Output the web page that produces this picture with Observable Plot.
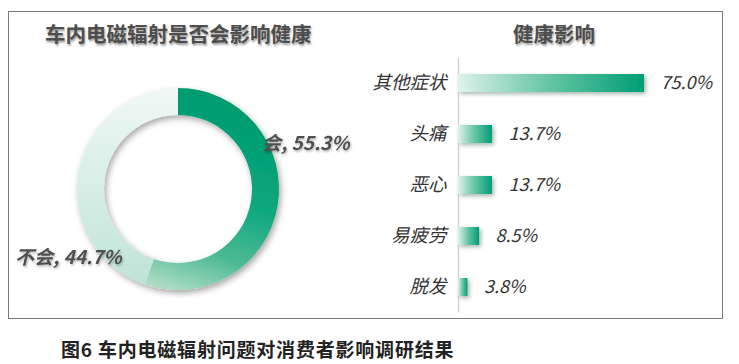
<!DOCTYPE html>
<html><head><meta charset="utf-8">
<script src="https://cdn.jsdelivr.net/npm/d3@7"></script>
<script src="https://cdn.jsdelivr.net/npm/@observablehq/plot@0.6"></script>
<style>
html,body{margin:0;padding:0;background:#fff;}
#root{position:relative;width:739px;height:364px;overflow:hidden;font-family:"Noto Sans CJK SC",sans-serif;}
#frame{position:absolute;left:8px;top:11px;width:713px;height:306px;border:1px solid #7a7a7a;pointer-events:none;}
.title{position:absolute;font-weight:700;font-size:20.5px;color:#4d4d4d;text-shadow:1px 2px 2px rgba(0,0,0,0.35);line-height:1;white-space:nowrap;}
#t1{left:45px;top:23px;}
#t2{left:513px;top:23px;}
#cap{position:absolute;left:61px;top:339px;font-size:19px;font-weight:700;color:#222;line-height:1;white-space:nowrap;letter-spacing:0.8px;}
#left{position:absolute;left:0;top:0;}
#right{position:absolute;left:370px;top:0;}
</style></head>
<body>
<div id="root">
  <div id="left"></div>
  <div id="right"></div>
  <div class="title" id="t1"></div>
  <div class="title" id="t2"></div>
  <div id="cap"></div>
  <div id="frame"></div>
</div>
<script>
// ---- data ----
const leftTitle = "车内电磁辐射是否会影响健康";
const rightTitle = "健康影响";
const caption = "图6 车内电磁辐射问题对消费者影响调研结果";
const pieCats = ["会", "不会"];
const pieValues = [55.3, 44.7];
const barCats = ["其他症状", "头痛", "恶心", "易疲劳", "脱发"];
const barValues = [75.0, 13.7, 13.7, 8.5, 3.8];

document.getElementById("t1").textContent = leftTitle;
document.getElementById("t2").textContent = rightTitle;
document.getElementById("cap").textContent = caption;

// ---- donut ----
let acc = 0;
const pieData = pieCats.map((c, i) => {
  const d = {cat: c, v: pieValues[i], start: acc, end: acc + pieValues[i]};
  acc += pieValues[i];
  return d;
});
const cx = 178, cy = 189, rIn = 74, rOut = 101;
const labelPos = [[262, 143], [15, 257]];

const leftDefs = () => {
  const defs = d3.create("svg:defs");
  const g1 = defs.append("linearGradient").attr("id", "gYes").attr("gradientUnits", "userSpaceOnUse")
    .attr("x1", 30).attr("y1", -100).attr("x2", -35).attr("y2", 98);
  [[0, "#009a70"], [0.45, "#0aa67d"], [0.75, "#4dba94"], [1, "#b8e0c8"]].forEach(([o, c]) =>
    g1.append("stop").attr("offset", o).attr("stop-color", c));
  const g2 = defs.append("linearGradient").attr("id", "gNo").attr("gradientUnits", "userSpaceOnUse")
    .attr("x1", 0).attr("y1", -101).attr("x2", 0).attr("y2", 101);
  [[0, "#f0f8f5"], [1, "#bde3d6"]].forEach(([o, c]) =>
    g2.append("stop").attr("offset", o).attr("stop-color", c));
  const f = defs.append("filter").attr("id", "donutShadow").attr("x", "-20%").attr("y", "-20%").attr("width", "140%").attr("height", "140%");
  f.append("feDropShadow").attr("dx", 2).attr("dy", 3).attr("stdDeviation", 3).attr("flood-color", "#000").attr("flood-opacity", 0.35);
  const f2 = defs.append("filter").attr("id", "txtShadow");
  f2.append("feDropShadow").attr("dx", 1).attr("dy", 1.5).attr("stdDeviation", 1).attr("flood-color", "#000").attr("flood-opacity", 0.3);
  return defs.node();
};

const leftPlot = Plot.plot({
  width: 370, height: 320, margin: 0,
  style: {background: "transparent", fontFamily: "Noto Sans CJK SC"},
  x: {domain: [0, 100], range: [0, 2 * Math.PI], axis: null},
  marks: [
    leftDefs,
    Plot.barX(pieData, {
      x1: "start", x2: "end",
      render: (index, scales, values, dims, ctx) => {
        const g = d3.create("svg:g").attr("transform", `translate(${cx},${cy})`);
        const arcs = g.append("g").attr("filter", "url(#donutShadow)");
        const arc = d3.arc().innerRadius(rIn).outerRadius(rOut);
        const fills = ["url(#gYes)", "url(#gNo)"];
        for (const i of index) {
          const d = pieData[i];
          arcs.append("path")
            .attr("d", arc({startAngle: scales.x(d.start), endAngle: scales.x(d.end)}))
            .attr("fill", fills[i]);
        }
        const lg = d3.create("svg:g").attr("filter", "url(#txtShadow)").attr("text-anchor", "start");
        for (const i of index) {
          const d = pieData[i];
          lg.append("text")
            .attr("x", labelPos[i][0]).attr("y", labelPos[i][1]).attr("dy", "0.36em")
            .attr("text-anchor", "start")
            .attr("font-size", 19).attr("font-weight", 700).attr("font-style", "italic")
            .attr("fill", "#505050")
            .text(`${d.cat}, ${d.v.toFixed(1)}%`);
        }
        const wrap = d3.create("svg:g");
        wrap.node().appendChild(g.node());
        wrap.node().appendChild(lg.node());
        return wrap.node();
      }
    })
  ]
});
document.getElementById("left").appendChild(leftPlot);

// ---- bars ----
const barData = barCats.map((c, i) => ({cat: c, v: barValues[i]}));
const rightDefs = () => {
  const defs = d3.create("svg:defs");
  const g = defs.append("linearGradient").attr("id", "barGrad").attr("x1", 0).attr("x2", 1).attr("y1", 0).attr("y2", 0);
  [[0, "#def2eb"], [0.5, "#62c4a2"], [1, "#009e76"]].forEach(([o, c]) =>
    g.append("stop").attr("offset", o).attr("stop-color", c));
  const f = defs.append("filter").attr("id", "barShadow").attr("x", "-30%").attr("y", "-60%").attr("width", "160%").attr("height", "220%");
  f.append("feDropShadow").attr("dx", 2).attr("dy", 2).attr("stdDeviation", 2.2).attr("flood-color", "#3a5a50").attr("flood-opacity", 0.45);
  return defs.node();
};

const rightPlot = Plot.plot({
  width: 369, height: 330,
  marginLeft: 88, marginRight: 33, marginTop: 57.5, marginBottom: 17.5,
  style: {background: "transparent", fontFamily: "Noto Sans CJK SC"},
  x: {domain: [0, 100], axis: null},
  y: {domain: barCats, paddingInner: 0.65, paddingOuter: 0.325, axis: null},
  marks: [
    rightDefs,
    Plot.ruleX([0], {stroke: "#d0d0d0", strokeWidth: 1.3}),
    Plot.barX(barData, {
      x: "v", y: "cat", fill: "url(#barGrad)",
      render: (index, scales, values, dims, ctx, next) => {
        const node = next(index, scales, values, dims, ctx);
        node.setAttribute("filter", "url(#barShadow)");
        return node;
      }
    }),
    Plot.text(barData, {x: 0, y: "cat", text: "cat", dx: -12, textAnchor: "end",
      fontSize: 18.5, fontStyle: "italic", fill: "#333"}),
    Plot.text(barData, {x: "v", y: "cat", text: d => d.v.toFixed(1) + "%", dx: 16, textAnchor: "start",
      fontSize: 18, fontStyle: "italic", fill: "#333"})
  ]
});
document.getElementById("right").appendChild(rightPlot);
</script>
</body></html>
